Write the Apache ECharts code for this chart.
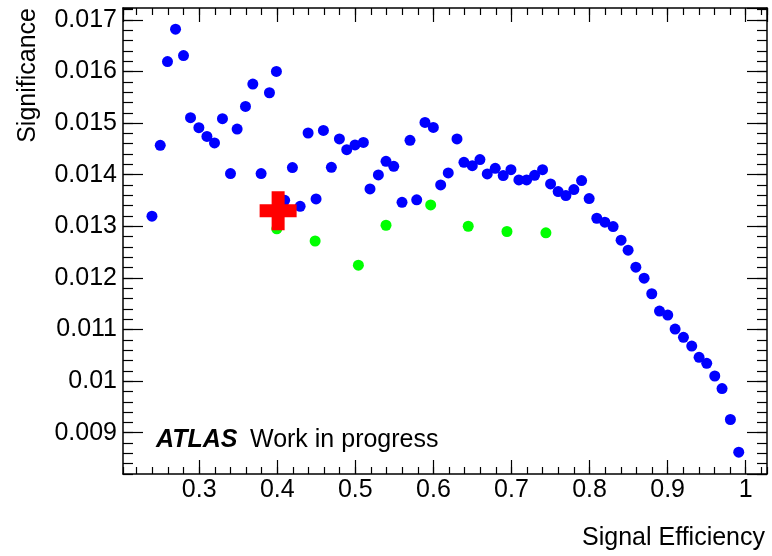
<!DOCTYPE html>
<html>
<head>
<meta charset="utf-8">
<script src="https://cdn.jsdelivr.net/npm/echarts@6/dist/echarts.min.js"></script>
<style>
html,body{margin:0;padding:0;background:#fff;}
#chart{width:772px;height:556px;}
</style>
</head>
<body>
<div id="chart"></div>
<script>
// Blue points: [signal efficiency, significance]
const blueEff = [0.2395,0.2501,0.2594,0.2697,0.2799,0.2889,0.2996,0.3099,0.3196,0.3298,0.3401,0.3486,0.3593,0.3687,0.3793,0.3900,0.3989,0.4095,0.4194,0.4293,0.4395,0.4497,0.4591,0.4693,0.4796,0.4890,0.4996,0.5103,0.5188,0.5295,0.5393,0.5492,0.5598,0.5700,0.5786,0.5892,0.5999,0.6093,0.6190,0.6302,0.6391,0.6498,0.6596,0.6690,0.6792,0.6894,0.6993,0.7095,0.7194,0.7296,0.7398,0.7501,0.7598,0.7697,0.7799,0.7898,0.7995,0.8093,0.8196,0.8302,0.8404,0.8494,0.8593,0.8699,0.8797,0.8896,0.9002,0.9096,0.9203,0.9309,0.9403,0.9501,0.9604,0.9697,0.9804,0.9911];
const blueSig = [0.013195,0.014568,0.016193,0.016820,0.016309,0.015104,0.014911,0.014742,0.014615,0.015085,0.014021,0.014885,0.015323,0.015755,0.014021,0.015588,0.016000,0.013504,0.014137,0.013388,0.014808,0.013531,0.014858,0.014143,0.014692,0.014485,0.014576,0.014626,0.013725,0.013995,0.014259,0.014162,0.013465,0.014665,0.013512,0.015013,0.014916,0.013802,0.014034,0.014692,0.014239,0.014175,0.014292,0.014015,0.014123,0.013982,0.014098,0.013899,0.013899,0.013988,0.014098,0.013821,0.013672,0.013595,0.013711,0.013885,0.013537,0.013156,0.013079,0.012995,0.012730,0.012537,0.012208,0.011995,0.011693,0.011357,0.011279,0.011008,0.010848,0.010679,0.010461,0.010345,0.010099,0.009856,0.009256,0.008623];
// Green points
const greenEff = [0.3994,0.4485,0.5039,0.5393,0.5965,0.6446,0.6942,0.7441];
const greenSig = [0.012951,0.012715,0.012247,0.013020,0.013415,0.013001,0.012899,0.012873];
// Red cross (chosen working point)
const redEff = [0.4011];
const redSig = [0.013301];

const xRange = [0.2024, 1.0273];
const yRange = [0.0082, 0.01723];

const zip = (a, b) => a.map((v, i) => [v, b[i]]);
const FONT = "'Liberation Sans', Arial, Helvetica, sans-serif";
const LINE = '#000';

function xAx(pos, major, labels) {
  return {
    type: 'value', position: pos, min: xRange[0], max: xRange[1],
    splitNumber: major ? 8 : 41,
    axisLine: {show: major, onZero: false, lineStyle: {color: LINE, width: 1.5}},
    axisTick: {show: true, inside: true, length: major ? 14 : 7, lineStyle: {color: LINE, width: 1.2}},
    axisLabel: {show: labels, showMinLabel: false, showMaxLabel: false, fontSize: 25, fontFamily: FONT, color: '#000', margin: 4},
    splitLine: {show: false}
  };
}
function yAx(pos, major, labels) {
  return {
    type: 'value', position: pos, min: yRange[0], max: yRange[1],
    splitNumber: major ? 9 : 45,
    axisLine: {show: major, onZero: false, lineStyle: {color: LINE, width: 1.5}},
    axisTick: {show: true, inside: true, length: major ? 20 : 10, lineStyle: {color: LINE, width: 1.2}},
    axisLabel: {show: labels, showMinLabel: false, showMaxLabel: false, fontSize: 25, fontFamily: FONT, color: '#000', margin: 6},
    splitLine: {show: false}
  };
}

const chart = echarts.init(document.getElementById('chart'), null, {renderer: 'canvas'});
chart.setOption({
  animation: false,
  backgroundColor: '#fff',
  grid: {left: 123, right: 5, top: 8, bottom: 82, containLabel: false},
  xAxis: [xAx('bottom', true, true), xAx('bottom', false, false), xAx('top', true, false), xAx('top', false, false)],
  yAxis: [yAx('left', true, true), yAx('left', false, false), yAx('right', true, false), yAx('right', false, false)],
  series: [
    {type: 'scatter', xAxisIndex: 0, yAxisIndex: 0, data: zip(blueEff, blueSig), symbol: 'circle', symbolSize: 11,
     itemStyle: {color: '#0000ff', opacity: 1}, z: 2},
    {type: 'scatter', xAxisIndex: 0, yAxisIndex: 0, data: zip(greenEff, greenSig), symbol: 'circle', symbolSize: 11,
     itemStyle: {color: '#00ff00', opacity: 1}, z: 3},
    {type: 'scatter', xAxisIndex: 0, yAxisIndex: 0, data: zip(redEff, redSig),
     symbol: 'path://M12,0H25V13H37V26H25V39H12V26H0V13H12Z', symbolSize: [37, 39],
     itemStyle: {color: '#ff0000', opacity: 1}, z: 4}
  ],
  graphic: [
    {type: 'text', x: 28, y: 8, rotation: Math.PI / 2,
     style: {text: 'Significance', font: '25px ' + FONT, fill: '#000', align: 'right', verticalAlign: 'middle'}},
    {type: 'text', x: 765, y: 538,
     style: {text: 'Signal Efficiency', font: '25px ' + FONT, fill: '#000', align: 'right', verticalAlign: 'middle'}},
    {type: 'text', x: 156, y: 440,
     style: {text: 'ATLAS', font: 'italic bold 25px ' + FONT, fill: '#000', align: 'left', verticalAlign: 'middle'}},
    {type: 'text', x: 250, y: 440,
     style: {text: 'Work in progress', font: '25px ' + FONT, fill: '#000', align: 'left', verticalAlign: 'middle'}}
  ]
});
</script>
</body>
</html>
